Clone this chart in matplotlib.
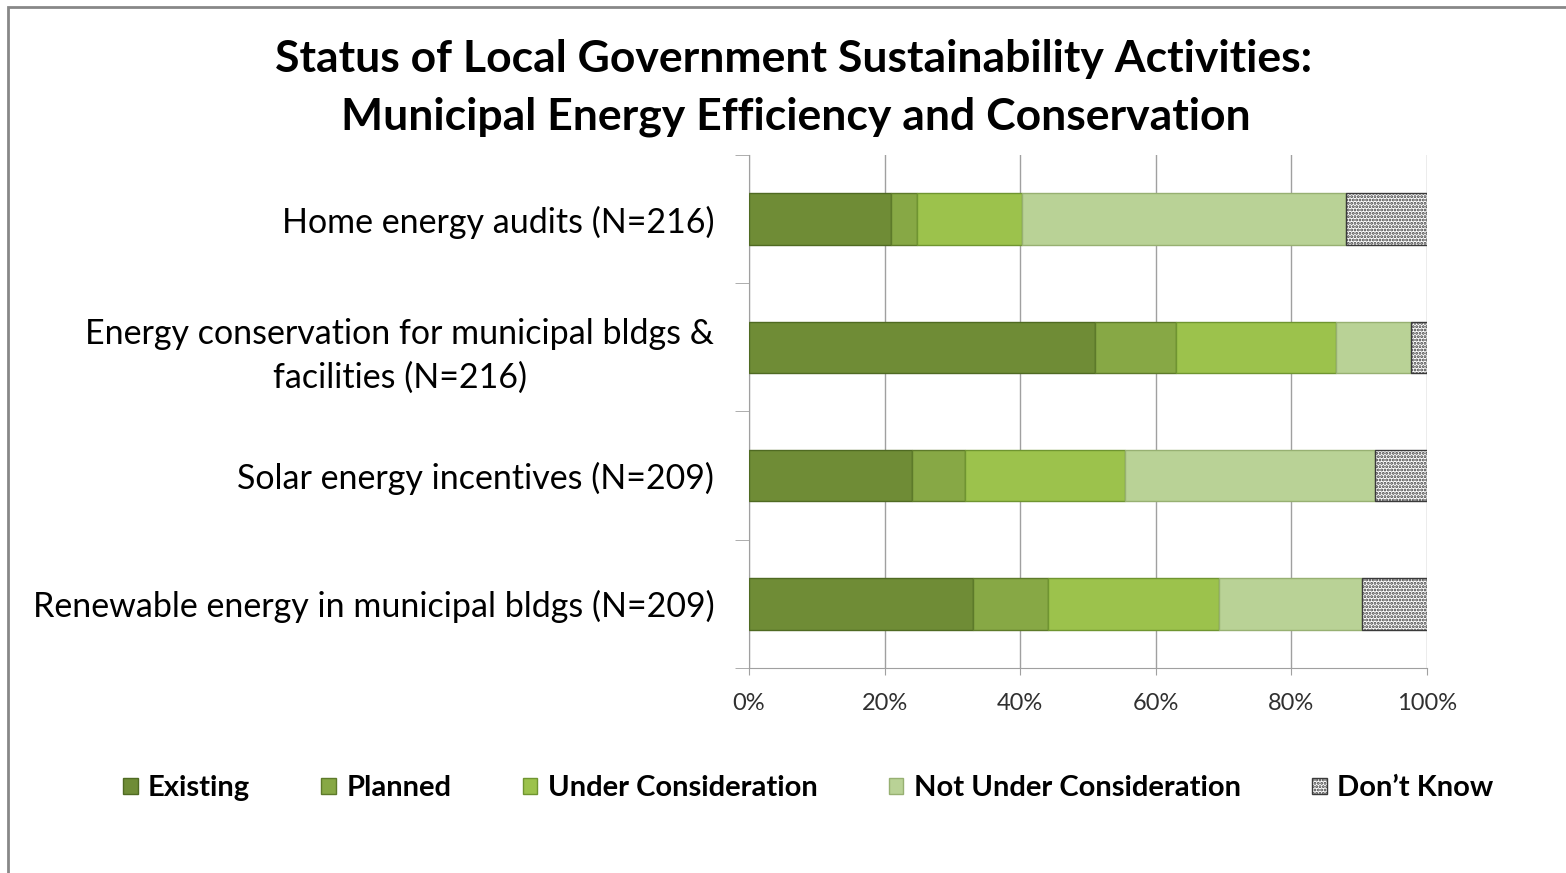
import numpy as np
import matplotlib.pyplot as plt
from matplotlib.patches import Rectangle

categories = ['Home energy audits (N=216)',
              'Energy conservation for municipal bldgs &\nfacilities (N=216)',
              'Solar energy incentives (N=209)',
              'Renewable energy in municipal bldgs (N=209)']
series = ['Existing', 'Planned', 'Under Consideration', 'Not Under Consideration', 'Don\u2019t Know']
existing = [21.0, 51.0, 24.0, 33.1]
planned = [3.7, 12.0, 7.8, 11.0]
under_cons = [15.6, 23.6, 23.7, 25.2]
not_under = [47.8, 11.0, 36.8, 21.1]
dont_know = [11.9, 2.4, 7.7, 9.6]
xticks = [0, 20, 40, 60, 80, 100]

colors = ['#6f8c36', '#87a845', '#9cc24c', '#b9d296', 'white']
edges = ['#4f6a22', '#5d7a2a', '#6f9530', '#97b072', '#3a3a3a']
hatches = [None, None, None, None, '.....']

plt.rcParams['font.family'] = ['Lato', 'DejaVu Sans']
plt.rcParams['hatch.linewidth'] = 1.4

fig = plt.figure(figsize=(15.66, 8.73), dpi=100)
ax = fig.add_axes([0.4783, 0.2348, 0.4330, 0.5877])

y = np.arange(len(categories))
left = np.zeros(len(categories))
data = [existing, planned, under_cons, not_under, dont_know]
for i in range(len(series)):
    ax.barh(y, data[i], left=left, height=0.4, color=colors[i], edgecolor=edges[i],
            linewidth=1, hatch=hatches[i], label=series[i], zorder=3)
    left = left + np.array(data[i])

ax.set_xlim(0, 100)
ax.set_ylim(3.5, -0.5)
ax.set_xticks(xticks)
ax.set_xticklabels([f'{v}%' for v in xticks], fontsize=17, color='#303030')
ax.set_yticks(y)
ax.set_yticklabels(categories, fontsize=24.5, linespacing=1.45)
ax.tick_params(axis='y', length=0, pad=25)
ax.set_yticks(np.arange(-0.5, 4, 1), minor=True)
ax.tick_params(axis='y', which='minor', length=10, color='#a0a0a0')
ax.tick_params(axis='x', length=5, color='#a0a0a0', pad=13)
for lab in ax.get_yticklabels():
    lab.set_horizontalalignment('right')
    lab.set_multialignment('center')
ax.grid(axis='x', color='#a0a0a0', linewidth=1, zorder=0)
for s in ['top', 'right']:
    ax.spines[s].set_visible(False)
ax.spines['left'].set_color('#a0a0a0')
ax.spines['bottom'].set_color('#a0a0a0')

fig.text(0.507, 0.932, 'Status of Local Government Sustainability Activities:',
         ha='center', va='center', fontsize=32, fontweight='bold')
fig.text(0.508, 0.866, 'Municipal Energy Efficiency and Conservation',
         ha='center', va='center', fontsize=32, fontweight='bold')

leg = fig.legend(loc='center', bbox_to_anchor=(0.516, 0.097), ncol=5, frameon=False,
                 handlelength=0.5, handleheight=0.5, handletextpad=0.35,
                 columnspacing=2.45, prop={'weight': 'bold', 'size': 21})

fig.patches.append(Rectangle((8 / 1566, -0.1), 1.2, 1 - 7 / 873 + 0.1, transform=fig.transFigure,
                             fill=False, edgecolor='#888888', linewidth=2))

fig.savefig('out.png', dpi=100)
